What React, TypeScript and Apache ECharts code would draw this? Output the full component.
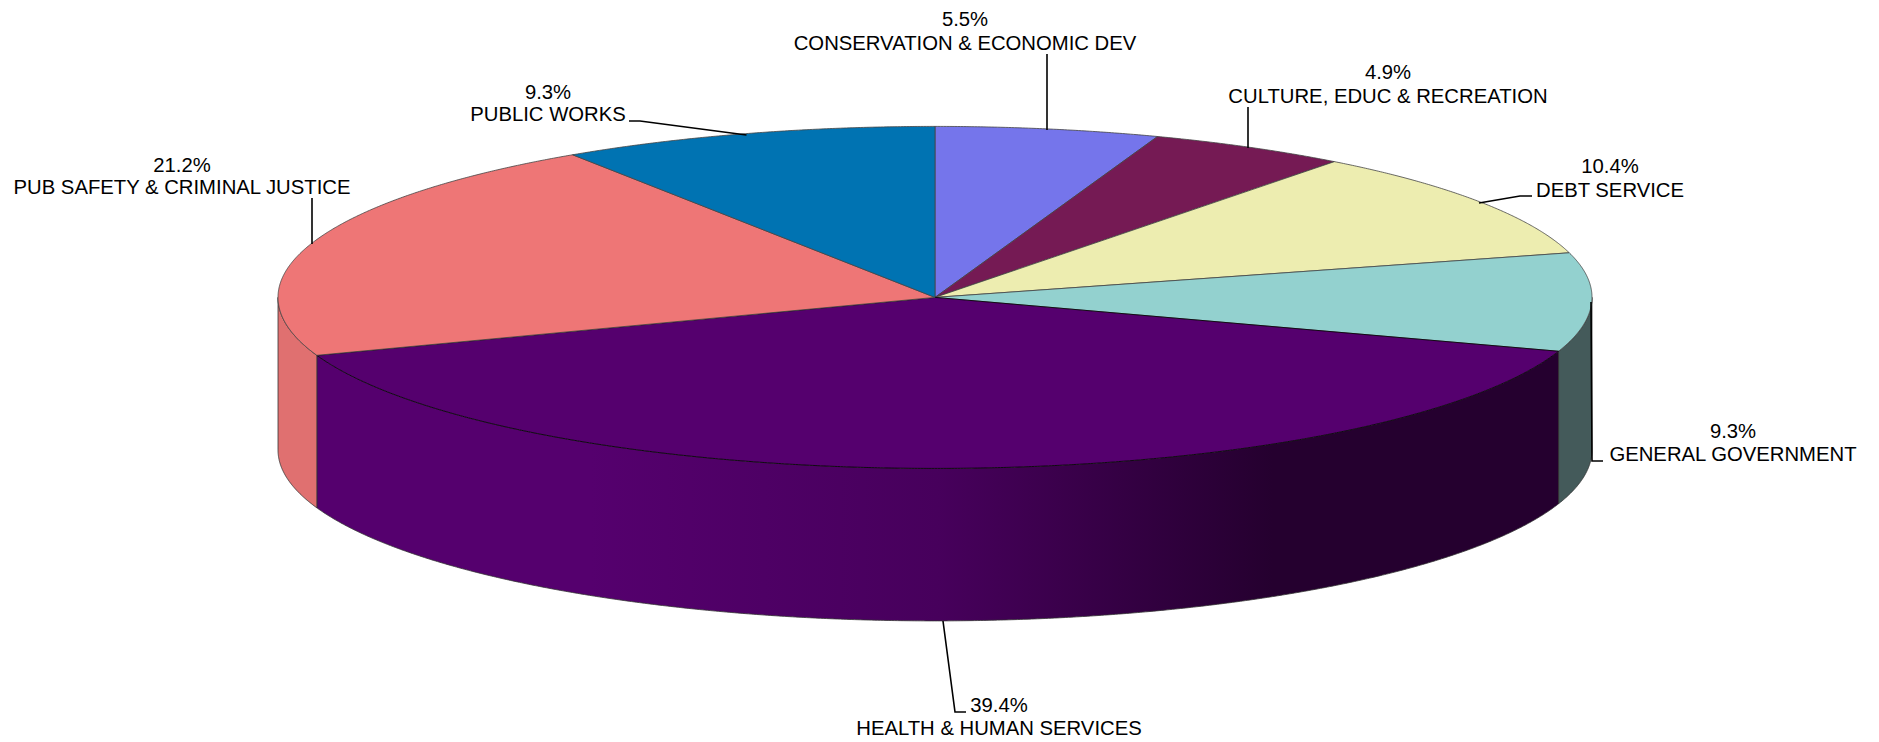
import React, { useEffect, useRef } from "react";
import * as echarts from "echarts";

const categories = [
  "CONSERVATION & ECONOMIC DEV",
  "CULTURE, EDUC & RECREATION",
  "DEBT SERVICE",
  "GENERAL GOVERNMENT",
  "HEALTH & HUMAN SERVICES",
  "PUB SAFETY & CRIMINAL JUSTICE",
  "PUBLIC WORKS",
];
const shares = [5.5, 4.9, 10.4, 9.3, 39.4, 21.2, 9.3];
const topColors = ["#7575EB", "#751A54", "#EDEDB0", "#93D1CF", "#55006E", "#EE7676", "#0073B2"];
const sideColors = ["#5F5FBE", "#5E1544", "#BFBF8E", "#445A5A", "#55006E", "#E07070", "#005D90"];

// label layout, in page pixels: centre x, first-line y, second-line y
const labelX = [965, 1388, 1610, 1733, 999, 182, 548];
const labelY1 = [19, 72, 166, 431, 705, 165, 92];
const labelY2 = [43, 96, 190, 454, 728, 187, 114];
const leaders: number[][][] = [
  [[1047, 54], [1047, 130]],
  [[1248, 107], [1248, 148]],
  [[1532, 196], [1520, 196], [1479, 203]],
  [[1603, 461], [1592, 461], [1591, 302]],
  [[943, 621], [955, 712], [966, 712]],
  [[312, 198], [312, 244]],
  [[629, 121], [640, 121], [746.5, 135]],
];

const CX = 935;
const CY = 297.4;
const RX = 657;
const RY = 171;
const DEPTH = 152.5;
const STEP = Math.PI / 720;

const total = shares.reduce((a, b) => a + b, 0);
const starts: number[] = [];
shares.reduce((acc, v, i) => {
  starts[i] = acc;
  return acc + v;
}, 0);
const toAngle = (v: number) => (v / total) * Math.PI * 2;

function arcPoints(api: any, a0: number, a1: number, dy = 0, reverse = false) {
  const pts: number[][] = [];
  const n = Math.max(1, Math.ceil((a1 - a0) / STEP));
  for (let k = 0; k <= n; k++) {
    const a = a0 + ((a1 - a0) * k) / n;
    const p = api.coord([Math.sin(a), Math.cos(a)]);
    pts.push([p[0], p[1] + dy]);
  }
  return reverse ? pts.reverse() : pts;
}

const sideFill = (i: number) =>
  i === 4
    ? new echarts.graphic.LinearGradient(0, 0, 1, 0, [
        { offset: 0, color: "#55006E" },
        { offset: 0.22, color: "#55006E" },
        { offset: 0.5, color: "#47005C" },
        { offset: 0.77, color: "#25002F" },
        { offset: 1, color: "#25002F" },
      ])
    : sideColors[i];

function renderSide(params: any, api: any) {
  const i = api.value(0);
  const a0 = Math.max(toAngle(starts[i]), Math.PI / 2);
  const a1 = Math.min(toAngle(starts[i] + shares[i]), (Math.PI * 3) / 2);
  if (a1 <= a0) return { type: "group", children: [] };
  const points = [...arcPoints(api, a0, a1), ...arcPoints(api, a0, a1, DEPTH, true)];
  return {
    type: "polygon",
    shape: { points },
    style: { fill: sideFill(i), stroke: "#333333", lineWidth: 0.8 },
  };
}

function renderTop(params: any, api: any) {
  const i = api.value(0);
  const a0 = toAngle(starts[i]);
  const a1 = toAngle(starts[i] + shares[i]);
  const points = [api.coord([0, 0]), ...arcPoints(api, a0, a1)];
  return {
    type: "polygon",
    shape: { points },
    style: { fill: topColors[i], stroke: i === 4 ? "#000000" : "#444444", lineWidth: 0.8 },
  };
}

function renderLabel(params: any, api: any) {
  const i = api.value(0);
  const textStyle = {
    fill: "#000000",
    font: '20.3px "Liberation Sans", Arial, sans-serif',
    align: "center",
    verticalAlign: "middle",
  };
  return {
    type: "group",
    children: [
      {
        type: "polyline",
        shape: { points: leaders[i] },
        style: { fill: "none", stroke: "#000000", lineWidth: 1.6 },
      },
      {
        type: "text",
        style: { ...textStyle, x: labelX[i], y: labelY1[i], text: shares[i].toFixed(1) + "%" },
      },
      {
        type: "text",
        style: { ...textStyle, x: labelX[i], y: labelY2[i], text: categories[i] },
      },
    ],
  };
}

export default function App() {
  const ref = useRef<HTMLDivElement>(null);
  useEffect(() => {
    const chart = echarts.init(ref.current!, null, { renderer: "svg" });
    const data = categories.map((name, i) => ({ name, value: [i, shares[i]] }));
    const base = {
      type: "custom",
      coordinateSystem: "cartesian2d",
      data,
      silent: true,
      clip: false,
      encode: { x: 1, y: 1 },
    };
    chart.setOption({
      animation: false,
      backgroundColor: "#ffffff",
      grid: { left: CX - RX, top: CY - RY, width: RX * 2, height: RY * 2, containLabel: false },
      xAxis: { type: "value", min: -1, max: 1, show: false },
      yAxis: { type: "value", min: -1, max: 1, show: false },
      series: [
        { ...base, z: 1, renderItem: renderSide },
        { ...base, z: 2, renderItem: renderTop },
        { ...base, z: 3, renderItem: renderLabel },
      ],
    });
    return () => chart.dispose();
  }, []);
  return (
    <div
      ref={ref}
      style={{ position: "fixed", left: 0, top: 0, width: 1879, height: 742 }}
    />
  );
}
